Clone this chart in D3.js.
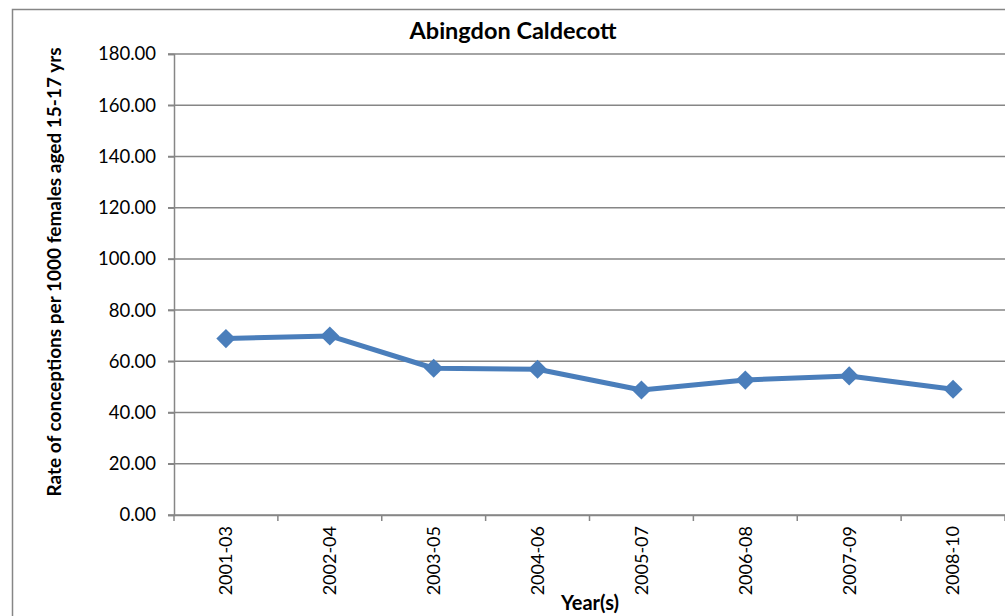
<!DOCTYPE html>
<html><head><meta charset="utf-8">
<script src="https://cdn.jsdelivr.net/npm/d3@7"></script>
<style>body{margin:0;background:#fff;}svg{display:block;font-family:Lato,"Open Sans",sans-serif;}</style>
</head><body><svg id="c" width="1005" height="616"></svg>
<script>
const categories = ["2001-03","2002-04","2003-05","2004-06","2005-07","2006-08","2007-09","2008-10"];
const values = [68.9, 69.9, 57.3, 56.9, 48.8, 52.7, 54.3, 49.1];
const yTicks = [0,20,40,60,80,100,120,140,160,180];
const title = "Abingdon Caldecott";
const yTitle = "Rate of conceptions per 1000 females aged 15-17 yrs";
const xTitle = "Year(s)";

const svg = d3.select("#c");
const L = 174, R = 1005, T = 54, B = 515;
svg.append("rect").attr("x",12.5).attr("y",9.5).attr("width",1100).attr("height",700)
  .attr("fill","#fff").attr("stroke","#868686").attr("stroke-width",1.5);

const x = d3.scaleBand().domain(categories).range([L,R]);
const y = d3.scaleLinear().domain([0,180]).range([B,T]);

svg.append("g").selectAll("line").data(yTicks).join("line")
  .attr("x1",L-6).attr("x2",R).attr("y1",d=>y(d)).attr("y2",d=>y(d))
  .attr("stroke","#868686").attr("stroke-width",1.5);

const ya = svg.append("g").attr("transform",`translate(${L},0)`)
  .call(d3.axisLeft(y).tickValues(yTicks).tickFormat(d3.format(".2f")).tickSize(6).tickPadding(12));
ya.select(".domain").attr("stroke","#868686").attr("stroke-width",1.5);
ya.selectAll(".tick line").attr("stroke","#868686").attr("stroke-width",1.5);
ya.selectAll("text").attr("font-size",18.5).attr("fill","#000").attr("font-family","Lato, sans-serif");

const xa = svg.append("g").attr("transform",`translate(0,${B})`)
  .call(d3.axisBottom(x).tickSize(0).tickSizeOuter(0));
xa.select(".domain").attr("stroke","#868686").attr("stroke-width",1.5);
xa.selectAll(".tick line").remove();
xa.selectAll(".tick text").attr("transform","rotate(-90)").attr("text-anchor","end")
  .attr("x",-11).attr("y",0).attr("dy","0.35em").attr("font-size",18).attr("fill","#000")
  .attr("font-family","Lato, sans-serif");
const bounds = categories.map(c=>x(c)).concat([x(categories[categories.length-1])+x.bandwidth()]);
svg.append("g").selectAll("line").data(bounds).join("line")
  .attr("x1",d=>d).attr("x2",d=>d).attr("y1",B).attr("y2",B+6)
  .attr("stroke","#868686").attr("stroke-width",1.5);

const cx = c => x(c)+x.bandwidth()/2;
svg.append("path").datum(values)
  .attr("d", d3.line().x((d,i)=>cx(categories[i])).y(d=>y(d)))
  .attr("fill","none").attr("stroke","#4a7ebb").attr("stroke-width",5).attr("stroke-linejoin","round");
svg.append("g").selectAll("path").data(values).join("path")
  .attr("d", d3.symbol().type(d3.symbolDiamond2).size(235))
  .attr("transform",(d,i)=>`translate(${cx(categories[i])},${y(d)})`)
  .attr("fill","#4a7ebb");

svg.append("text").attr("x",513).attr("y",39).attr("text-anchor","middle")
  .attr("font-weight","bold").attr("font-size",23.5).text(title);
svg.append("text").attr("transform",`translate(61,272) rotate(-90)`).attr("text-anchor","middle")
  .attr("font-weight","bold").attr("font-size",19).text(yTitle);
svg.append("text").attr("x",590).attr("y",610).attr("text-anchor","middle")
  .attr("font-weight","bold").attr("font-size",20).text(xTitle);
</script></body></html>
